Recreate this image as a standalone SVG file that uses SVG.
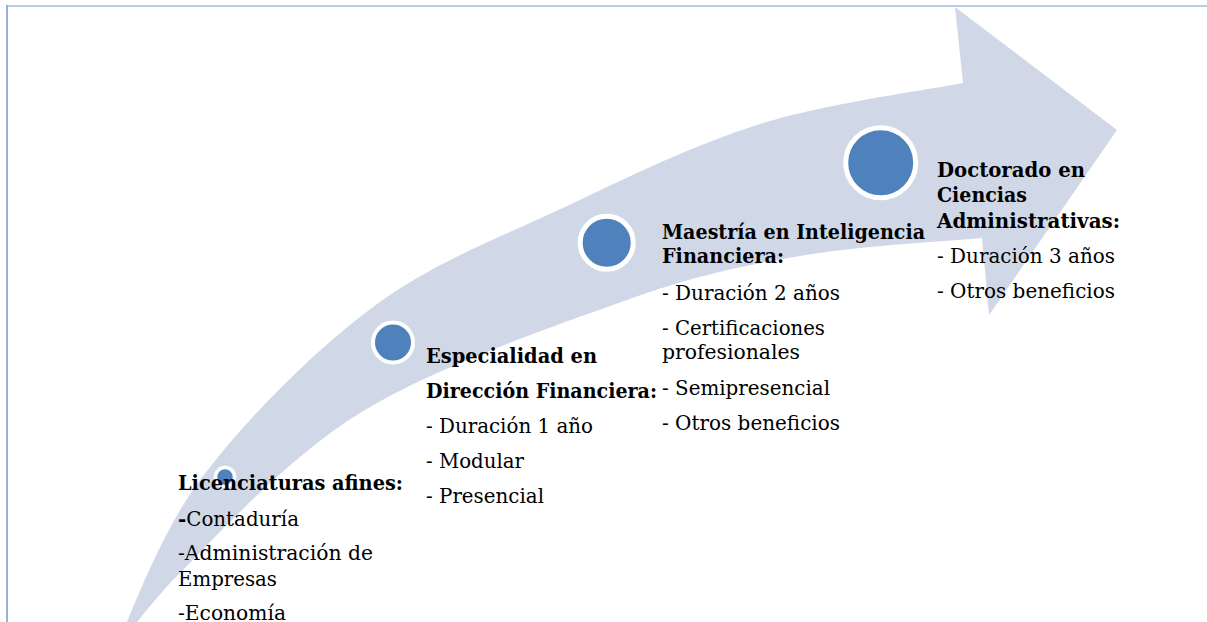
<svg xmlns="http://www.w3.org/2000/svg" width="1207" height="622" viewBox="0 0 1207 622">
<style>
.t{font-family:"DejaVu Serif","Liberation Serif",serif;font-size:21px;fill:#000}
.b{font-weight:bold;font-size:21px}
.dot{fill:#4f81bd;stroke:#ffffff}
</style>
<rect width="1207" height="622" fill="#ffffff"/>
<line x1="6" y1="6" x2="1207" y2="6" stroke="#b8cce4" stroke-width="2"/>
<line x1="7" y1="5" x2="7" y2="622" stroke="#95b3d7" stroke-width="2"/>
<g id="arrow">
<path fill="#d0d8e8" d="M110,662 C124,633.3 155.7,539.5 200,480 C244.3,420.5 312.2,352.5 373,307 C433.8,261.5 500.5,237.5 565,207 C629.5,176.5 693.7,144.7 760,124 C826.3,103.3 929.2,89.8 963,83 L955,7 L1117,130 L989,315 L982,238 C951.7,241 859.2,245.7 800,256 C740.8,266.3 700.3,273.8 627,300 C553.7,326.2 435.7,366.3 360,413 C284.3,459.7 215.2,538.2 173,580 C138,618 120,645 110,662 Z"/>
</g>
<g id="connectors"></g>
<g id="licenciaturas">
<circle class="dot" cx="225" cy="477" r="9.5" stroke-width="3.5"/>
<text class="t b" x="178" y="490" textLength="225" lengthAdjust="spacingAndGlyphs">Licenciaturas afines:</text>
<text class="t" x="178" y="526" textLength="121" lengthAdjust="spacingAndGlyphs"><tspan font-weight="bold">-</tspan>Contaduría</text>
<text class="t" x="178" y="560" textLength="195" lengthAdjust="spacingAndGlyphs">-Administración de</text>
<text class="t" x="178" y="585.5" textLength="99" lengthAdjust="spacingAndGlyphs">Empresas</text>
<text class="t" x="178" y="620" textLength="108" lengthAdjust="spacingAndGlyphs">-Economía</text>
</g>
<g id="especialidad">
<circle class="dot" cx="393" cy="342.5" r="20" stroke-width="4"/>
<text class="t b" x="426" y="362.7" textLength="171" lengthAdjust="spacingAndGlyphs">Especialidad en</text>
<text class="t b" x="426" y="397.7" textLength="231" lengthAdjust="spacingAndGlyphs">Dirección Financiera:</text>
<text class="t" x="426" y="432.7" textLength="167" lengthAdjust="spacingAndGlyphs">- Duración 1 año</text>
<text class="t" x="426" y="467.7" textLength="98" lengthAdjust="spacingAndGlyphs">- Modular</text>
<text class="t" x="426" y="502.7" textLength="118" lengthAdjust="spacingAndGlyphs">- Presencial</text>
</g>
<g id="maestria">
<circle class="dot" cx="606.7" cy="242.7" r="26.5" stroke-width="5"/>
<text class="t b" x="662" y="239.3" textLength="263" lengthAdjust="spacingAndGlyphs">Maestría en Inteligencia</text>
<text class="t b" x="662" y="263.3" textLength="122" lengthAdjust="spacingAndGlyphs">Financiera:</text>
<text class="t" x="662" y="300" textLength="178" lengthAdjust="spacingAndGlyphs">- Duración 2 años</text>
<text class="t" x="662" y="335" textLength="163" lengthAdjust="spacingAndGlyphs">- Certificaciones</text>
<text class="t" x="662" y="359.3" textLength="138" lengthAdjust="spacingAndGlyphs">profesionales</text>
<text class="t" x="662" y="395" textLength="168" lengthAdjust="spacingAndGlyphs">- Semipresencial</text>
<text class="t" x="662" y="430" textLength="178" lengthAdjust="spacingAndGlyphs">- Otros beneficios</text>
</g>
<g id="doctorado">
<circle class="dot" cx="880.7" cy="162.7" r="35" stroke-width="5"/>
<text class="t b" x="937" y="176.7" textLength="148" lengthAdjust="spacingAndGlyphs">Doctorado en</text>
<text class="t b" x="937" y="202.3" textLength="90" lengthAdjust="spacingAndGlyphs">Ciencias</text>
<text class="t b" x="937" y="227.7" textLength="183" lengthAdjust="spacingAndGlyphs">Administrativas:</text>
<text class="t" x="937" y="263.3" textLength="178" lengthAdjust="spacingAndGlyphs">- Duración 3 años</text>
<text class="t" x="937" y="298.3" textLength="178" lengthAdjust="spacingAndGlyphs">- Otros beneficios</text>
</g>
</svg>
